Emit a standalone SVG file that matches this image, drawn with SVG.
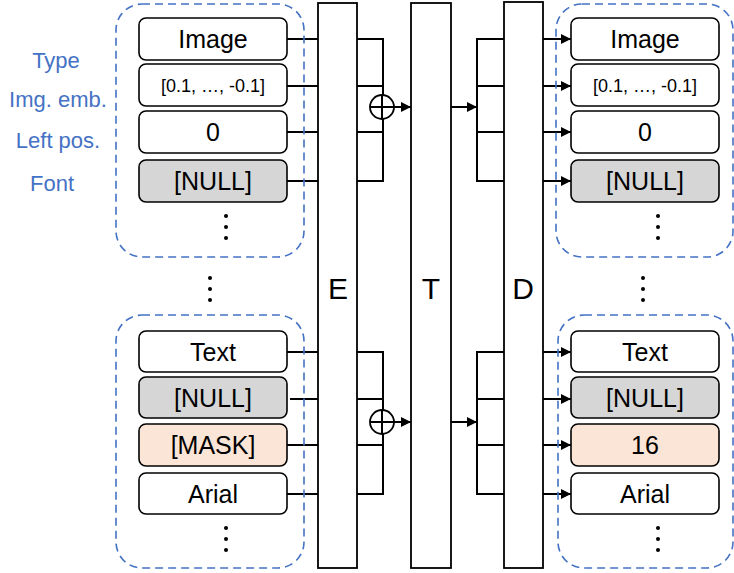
<svg xmlns="http://www.w3.org/2000/svg" width="734" height="573" viewBox="0 0 734 573">
  <style>
    .grp { fill: none; stroke: #4472C4; stroke-width: 1.6; stroke-dasharray: 8 5; }
    .box { fill: #ffffff; stroke: #000; stroke-width: 1.6; }
    .null { fill: #d6d6d6; }
    .mask { fill: #fbe5d6; }
    .bar { fill: #ffffff; stroke: #000; stroke-width: 1.8; }
    .t { font-family: "Liberation Sans", Arial, sans-serif; fill: #000; text-anchor: middle; }
    .lab { font-family: "Liberation Sans", Arial, sans-serif; fill: #4472C4; font-size: 22px; text-anchor: middle; }
    .ln { fill: none; stroke: #000; stroke-width: 2; }
    .arr { fill: none; stroke: #000; stroke-width: 2; marker-end: url(#ah); }
    .dot { fill: #000; }
  </style>
  <defs>
    <marker id="ah" viewBox="0 0 10 10" refX="10" refY="5" markerWidth="5.5" markerHeight="5" orient="auto" markerUnits="strokeWidth">
      <path d="M0,0 L10,5 L0,10 z" fill="#000"/>
    </marker>
  </defs>

  <!-- row labels -->
  <g id="labels">
    <text class="lab" x="56" y="68">Type</text>
    <text class="lab" x="58" y="107">Img. emb.</text>
    <text class="lab" x="58" y="148">Left pos.</text>
    <text class="lab" x="52" y="191">Font</text>
  </g>

  <!-- connectors -->
  <g id="connectors">
    <!-- upper token: inputs into E -->
    <path class="ln" d="M287,39 H318 M287,86 H318 M287,132 H318 M287,181 H318"/>
    <!-- E outputs summed -->
    <path class="ln" d="M357,39 H383 V181 H357 M357,86 H383 M357,132 H383"/>
    <path class="arr" d="M394,107 H411"/>
    <!-- T to D -->
    <path class="arr" d="M451,107 H477"/>
    <path class="ln" d="M504,39 H477 V181 H504 M477,86 H504 M477,132 H504"/>
    <!-- D outputs -->
    <path class="arr" d="M543,39 H571"/>
    <path class="arr" d="M543,86 H571"/>
    <path class="arr" d="M543,132 H571"/>
    <path class="arr" d="M543,181 H571"/>

    <!-- lower token -->
    <path class="ln" d="M287,352 H318 M290,399 H318 M287,445 H318 M287,494 H318"/>
    <path class="ln" d="M357,352 H383 V494 H357 M357,399 H383 M357,445 H383"/>
    <path class="arr" d="M394,422 H411"/>
    <path class="arr" d="M451,422 H477"/>
    <path class="ln" d="M504,352 H477 V494 H504 M477,399 H504 M477,445 H504"/>
    <path class="arr" d="M543,352 H571"/>
    <path class="arr" d="M543,399 H571"/>
    <path class="arr" d="M543,445 H571"/>
    <path class="arr" d="M543,494 H571"/>
  </g>

  <!-- sum nodes -->
  <g id="sum-upper">
    <circle cx="382" cy="107" r="12" fill="#fff" stroke="#000" stroke-width="1.8"/>
    <path class="ln" d="M370,107 H394 M382,95 V119" stroke-width="1.6"/>
  </g>
  <g id="sum-lower">
    <circle cx="382" cy="422" r="12" fill="#fff" stroke="#000" stroke-width="1.8"/>
    <path class="ln" d="M370,422 H394 M382,410 V434" stroke-width="1.6"/>
  </g>

  <!-- encoder / transformer / decoder -->
  <g id="E">
    <rect class="bar" x="318" y="3" width="39" height="565"/>
    <text class="t" x="338" y="299" font-size="30">E</text>
  </g>
  <g id="T">
    <rect class="bar" x="411" y="3" width="40" height="565"/>
    <text class="t" x="431" y="299" font-size="30">T</text>
  </g>
  <g id="D">
    <rect class="bar" x="504" y="2" width="39" height="566"/>
    <text class="t" x="523" y="299" font-size="30">D</text>
  </g>

  <!-- input group, upper token -->
  <g id="in-upper">
    <rect class="grp" x="116" y="4" width="188" height="253" rx="26"/>
    <rect class="box" x="139" y="18" width="148" height="42" rx="7"/>
    <text class="t" x="213" y="48" font-size="25">Image</text>
    <rect class="box" x="139" y="64" width="148" height="42" rx="7"/>
    <text class="t" x="213" y="92" font-size="18">[0.1, …, -0.1]</text>
    <rect class="box" x="139" y="111" width="148" height="42" rx="7"/>
    <text class="t" x="213" y="141" font-size="25">0</text>
    <rect class="box null" x="139" y="160" width="148" height="42" rx="7"/>
    <text class="t" x="213" y="190" font-size="25">[NULL]</text>
    <circle class="dot" cx="226" cy="216" r="2"/>
    <circle class="dot" cx="226" cy="227" r="2"/>
    <circle class="dot" cx="226" cy="238" r="2"/>
  </g>

  <!-- ellipsis between tokens -->
  <g id="gap-left">
    <circle class="dot" cx="210" cy="278" r="2"/>
    <circle class="dot" cx="210" cy="289" r="2"/>
    <circle class="dot" cx="210" cy="300" r="2"/>
  </g>
  <g id="gap-right">
    <circle class="dot" cx="643" cy="278" r="2"/>
    <circle class="dot" cx="643" cy="289" r="2"/>
    <circle class="dot" cx="643" cy="300" r="2"/>
  </g>

  <!-- input group, lower token -->
  <g id="in-lower">
    <rect class="grp" x="116" y="315" width="188" height="253" rx="26"/>
    <rect class="box" x="139" y="331" width="148" height="41" rx="7"/>
    <text class="t" x="213" y="361" font-size="25">Text</text>
    <rect class="box null" x="139" y="377" width="148" height="41" rx="7"/>
    <text class="t" x="213" y="407" font-size="25">[NULL]</text>
    <rect class="box mask" x="139" y="424" width="148" height="42" rx="7"/>
    <text class="t" x="213" y="454" font-size="25">[MASK]</text>
    <rect class="box" x="139" y="473" width="148" height="41" rx="7"/>
    <text class="t" x="213" y="503" font-size="25">Arial</text>
    <circle class="dot" cx="226" cy="528" r="2"/>
    <circle class="dot" cx="226" cy="539" r="2"/>
    <circle class="dot" cx="226" cy="550" r="2"/>
  </g>

  <!-- output group, upper token -->
  <g id="out-upper">
    <rect class="grp" x="556" y="4" width="177" height="253" rx="26"/>
    <rect class="box" x="571" y="18" width="148" height="42" rx="7"/>
    <text class="t" x="645" y="48" font-size="25">Image</text>
    <rect class="box" x="571" y="64" width="148" height="42" rx="7"/>
    <text class="t" x="645" y="92" font-size="18">[0.1, …, -0.1]</text>
    <rect class="box" x="571" y="111" width="148" height="42" rx="7"/>
    <text class="t" x="645" y="141" font-size="25">0</text>
    <rect class="box null" x="571" y="160" width="148" height="42" rx="7"/>
    <text class="t" x="645" y="190" font-size="25">[NULL]</text>
    <circle class="dot" cx="658" cy="216" r="2"/>
    <circle class="dot" cx="658" cy="227" r="2"/>
    <circle class="dot" cx="658" cy="238" r="2"/>
  </g>

  <!-- output group, lower token -->
  <g id="out-lower">
    <rect class="grp" x="558" y="315" width="175" height="253" rx="26"/>
    <rect class="box" x="571" y="331" width="148" height="41" rx="7"/>
    <text class="t" x="645" y="361" font-size="25">Text</text>
    <rect class="box null" x="571" y="377" width="148" height="41" rx="7"/>
    <text class="t" x="645" y="407" font-size="25">[NULL]</text>
    <rect class="box mask" x="571" y="424" width="148" height="42" rx="7"/>
    <text class="t" x="645" y="454" font-size="25">16</text>
    <rect class="box" x="571" y="473" width="148" height="41" rx="7"/>
    <text class="t" x="645" y="503" font-size="25">Arial</text>
    <circle class="dot" cx="658" cy="528" r="2"/>
    <circle class="dot" cx="658" cy="539" r="2"/>
    <circle class="dot" cx="658" cy="550" r="2"/>
  </g>
</svg>
